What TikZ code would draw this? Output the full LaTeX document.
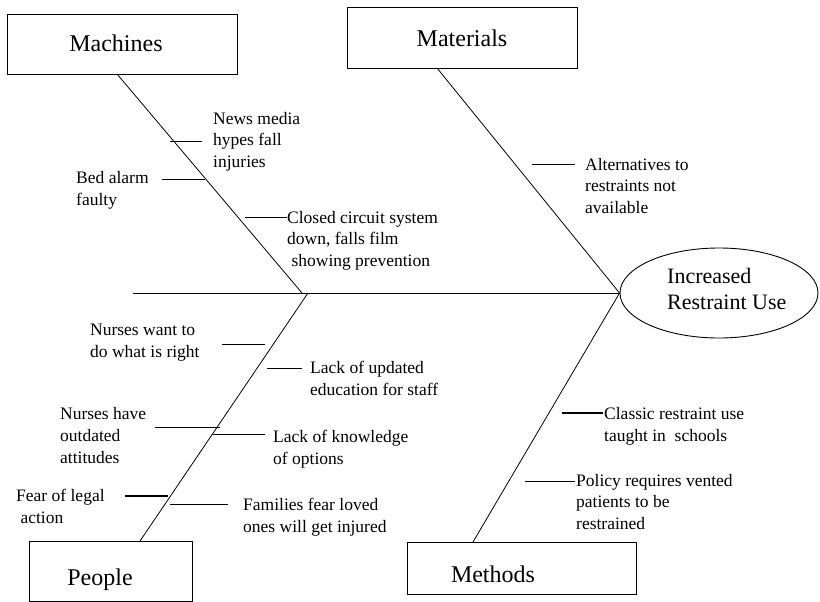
\documentclass[tikz,border=0pt]{standalone}
\usepackage{fontspec}
\setmainfont{Liberation Serif}
\usetikzlibrary{shapes.geometric}
\tikzset{
  catbox/.style={draw, line width=0.9pt, inner sep=0pt},
  catlabel/.style={font=\fontsize{24}{28}\selectfont, inner sep=0pt, anchor=base},
  % multi-line texts are placed by the baseline of their last line
  cause/.style={font=\fontsize{17.5}{21.5}\selectfont, align=left, anchor=base west, inner sep=0pt},
  bone/.style={line width=0.8pt},
  twig/.style={line width=0.7pt},
  boldtwig/.style={line width=1.5pt},
}
\begin{document}
\begin{tikzpicture}[x=1pt,y=-1pt]
\useasboundingbox (0,0) rectangle (820,602);

% category boxes and their titles
\node[catbox, minimum width=230pt, minimum height=60pt] (machines) at (122,44) {};
\node[catlabel] (machinesT) at (116,52) {Machines};
\node[catbox, minimum width=230pt, minimum height=61pt] (materials) at (462,37.5) {};
\node[catlabel] (materialsT) at (462,47) {Materials};
\node[catbox, minimum width=163pt, minimum height=60pt] (people) at (110.5,571) {};
\node[catlabel] (peopleT) at (100,585) {People};
\node[catbox, minimum width=229pt, minimum height=52pt] (methods) at (521.5,568) {};
\node[catlabel] (methodsT) at (493,582) {Methods};

% effect
\node[draw, ellipse, line width=0.9pt, minimum width=198pt, minimum height=90pt, inner sep=0pt] (effect) at (719,293) {};
\node[font=\fontsize{22}{26}\selectfont, align=left, anchor=base west, inner sep=0pt] (effectT) at (667,309) {Increased\\Restraint Use};

% spine and main bones
\coordinate (spineL) at (133,293);
\coordinate (jM) at (302,293);
\coordinate (jP) at (308,293);
\coordinate (mcTop) at (117,74);
\coordinate (mtTop) at (437,68);
\coordinate (ppTop) at (140,541);
\coordinate (mdTop) at (473,542);
\draw[bone] (spineL) -- (effect.west);
\draw[bone] (mcTop) -- (jM);
\draw[bone] (mtTop) -- (effect.west);
\draw[bone] (jP) -- (ppTop);
\draw[bone] (effect.west) -- (mdTop);

% causes: machines
\node[cause] (news) at (213,167) {News media\\hypes fall\\injuries};
\node[cause] (bed) at (76,205) {Bed alarm\\faulty};
\node[cause] (cctv) at (287,266) {Closed circuit system\\down, falls film\\\ showing prevention};
\coordinate (a1) at (170,141); \coordinate (b1) at (202,141);
\coordinate (a2) at (162,179); \coordinate (b2) at (205,179);
\coordinate (a3) at (245,217); \coordinate (b3) at (287,217);
\draw[twig] (a1) -- (b1);
\draw[twig] (a2) -- (b2);
\draw[twig] (a3) -- (b3);

% causes: materials
\node[cause] (alt) at (585,213) {Alternatives to\\restraints not\\available};
\coordinate (a4) at (532,164); \coordinate (b4) at (575,164);
\draw[twig] (a4) -- (b4);

% causes: people
\node[cause] (want) at (90,357) {Nurses want to\\do what is right};
\node[cause] (edu) at (310,395) {Lack of updated\\education for staff};
\node[cause, font=\fontsize{17.5}{22}\selectfont] (att) at (60,463) {Nurses have\\outdated\\attitudes};
\node[cause] (know) at (273,464) {Lack of knowledge\\of options};
\node[cause] (legal) at (16,523) {Fear of legal\\\ action};
\node[cause] (fam) at (243,532) {Families fear loved\\ones will get injured};
\coordinate (a5) at (222,344); \coordinate (b5) at (265,344);
\coordinate (a6) at (267,368); \coordinate (b6) at (302,368);
\coordinate (a7) at (155,427); \coordinate (b7) at (220,427);
\coordinate (a8) at (213,434); \coordinate (b8) at (265,434);
\coordinate (a9) at (125,496); \coordinate (b9) at (168,496);
\coordinate (a10) at (170,504); \coordinate (b10) at (228,504);
\draw[twig] (a5) -- (b5);
\draw[twig] (a6) -- (b6);
\draw[twig] (a7) -- (b7);
\draw[twig] (a8) -- (b8);
\draw[boldtwig] (a9) -- (b9);
\draw[twig] (a10) -- (b10);

% causes: methods
\node[cause] (classic) at (604,441) {Classic restraint use\\taught in\ \ schools};
\node[cause] (policy) at (576,529) {Policy requires vented\\patients to be\\restrained};
\coordinate (a11) at (562,413); \coordinate (b11) at (603,413);
\coordinate (a12) at (525,481); \coordinate (b12) at (575,481);
\draw[boldtwig] (a11) -- (b11);
\draw[twig] (a12) -- (b12);
\end{tikzpicture}
\end{document}
